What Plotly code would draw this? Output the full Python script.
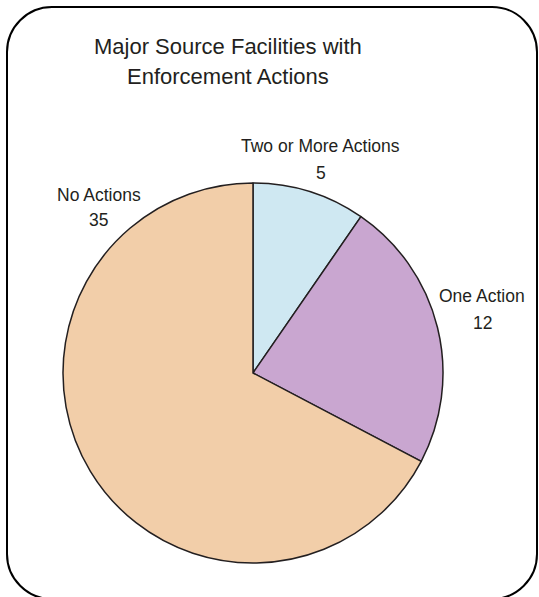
import plotly.graph_objects as go

# Data
categories = ["Two or More Actions", "One Action", "No Actions"]
values = [5, 12, 35]
colors = ["#cfe8f2", "#c9a6d0", "#f2cea9"]
title_lines = ["Major Source Facilities with", "Enforcement Actions"]

W, H = 539, 597
FONT = "Liberation Sans Narrow, Arial Narrow, Liberation Sans, Arial, sans-serif"
TXT = "#231f20"

def px(x):
    return x / W

def py(y):
    return 1 - y / H

# pie geometry (pixels)
cx, cy, r = 253, 373, 190

fig = go.Figure(go.Pie(
    labels=categories,
    values=values,
    marker=dict(colors=colors, line=dict(color="#231f20", width=1.5)),
    sort=False,
    direction="clockwise",
    rotation=0,
    textinfo="none",
    hoverinfo="label+value",
    showlegend=False,
    domain=dict(x=[px(cx - r), px(cx + r)], y=[py(cy + r), py(cy - r)]),
))

# label positions (pixels): center x, name middle y, value middle y
label_pos = {
    "Two or More Actions": (321, 146, 173),
    "One Action": (482, 296, 323),
    "No Actions": (98.5, 195, 220),
}
annotations = []
for cat, val in zip(categories, values):
    x, yn, yv = label_pos[cat]
    for txt, yy in ((cat, yn), (str(val), yv)):
        annotations.append(dict(
            x=px(x), y=py(yy), xref="paper", yref="paper",
            xanchor="center", yanchor="middle", showarrow=False,
            text=txt, font=dict(family=FONT, size=17.5, color=TXT),
        ))

title_y = [46, 77]
for line, yy in zip(title_lines, title_y):
    annotations.append(dict(
        x=px(228), y=py(yy), xref="paper", yref="paper",
        xanchor="center", yanchor="middle", showarrow=False,
        text=line, font=dict(family=FONT, size=22, color=TXT),
    ))

# rounded border
x0, y0, x1, y1, rr = 7, 7, 537, 599, 45
k = 0.5523 * rr
def P(x, y):
    return f"{px(x):.5f},{py(y):.5f}"
path = (
    f"M {P(x0 + rr, y0)} L {P(x1 - rr, y0)} "
    f"C {P(x1 - rr + k, y0)} {P(x1, y0 + rr - k)} {P(x1, y0 + rr)} "
    f"L {P(x1, y1 - rr)} "
    f"C {P(x1, y1 - rr + k)} {P(x1 - rr + k, y1)} {P(x1 - rr, y1)} "
    f"L {P(x0 + rr, y1)} "
    f"C {P(x0 + rr - k, y1)} {P(x0, y1 - rr + k)} {P(x0, y1 - rr)} "
    f"L {P(x0, y0 + rr)} "
    f"C {P(x0, y0 + rr - k)} {P(x0 + rr - k, y0)} {P(x0 + rr, y0)} Z"
)

fig.update_layout(
    width=W, height=H,
    margin=dict(l=0, r=0, t=0, b=0),
    paper_bgcolor="white", plot_bgcolor="white",
    annotations=annotations,
    shapes=[dict(type="path", xref="paper", yref="paper", path=path,
                 line=dict(color="black", width=2), layer="above")],
)

fig.write_html("out.html", config={"displayModeBar": False})
